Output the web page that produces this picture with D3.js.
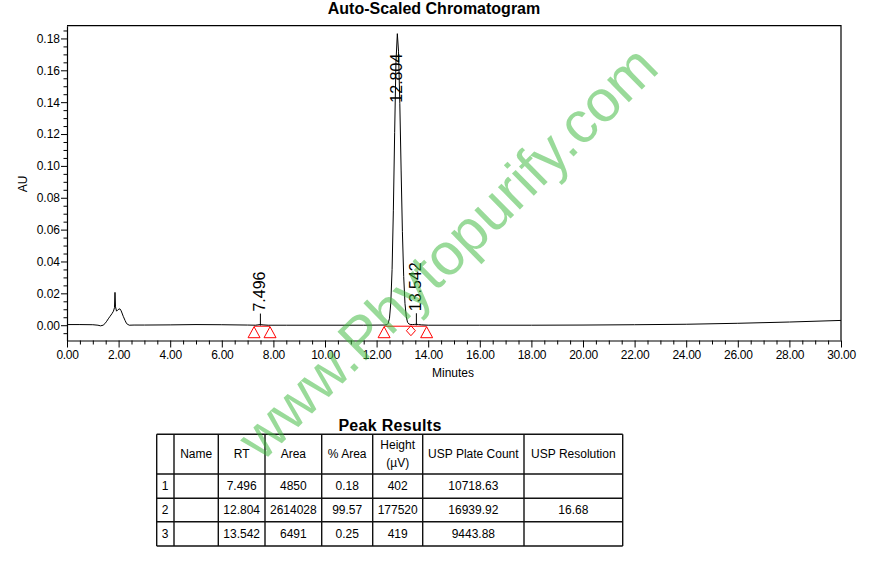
<!DOCTYPE html>
<html><head><meta charset="utf-8">
<script src="https://cdn.jsdelivr.net/npm/d3@7"></script>
<style>
body{margin:0;background:#fff}
text{font-family:Arial,"Liberation Sans",sans-serif;fill:#000}
</style>
</head><body>
<svg id="c" width="875" height="582"></svg>
<script>
// ---------- data ----------
const times = [0.00,0.50,1.00,1.20,1.30,1.40,1.47,1.54,1.60,1.67,1.74,1.80,1.84,1.86,1.88,1.92,1.98,2.05,2.10,2.18,2.25,2.31,2.41,2.60,3.00,4.00,5.00,6.00,7.00,7.30,7.40,7.496,7.60,7.80,8.50,10.00,11.50,12.30,12.40,12.45,12.50,12.55,12.60,12.65,12.70,12.75,12.804,12.85,12.90,12.95,13.00,13.05,13.10,13.15,13.20,13.25,13.30,13.40,13.48,13.542,13.62,13.75,14.00,16.00,18.00,20.00,22.00,24.00,26.00,28.00,30.00];
const absorbance = [0.0004,0.0004,0.0003,0.0000,-0.0004,0.0000,0.0010,0.0025,0.0040,0.0056,0.0072,0.0088,0.0110,0.0206,0.0115,0.0088,0.0098,0.0103,0.0090,0.0056,0.0030,0.0010,0.0000,0.0001,0.0001,0.0002,0.0004,0.0003,0.0001,0.0000,0.0002,0.0004,0.0002,0.0000,0.0000,0.0000,0.0000,0.0001,0.0003,0.0012,0.0044,0.0139,0.0350,0.0722,0.1211,0.1650,0.1830,0.1720,0.1390,0.0974,0.0587,0.0306,0.0137,0.0053,0.0018,0.0008,0.0005,0.0004,0.0005,0.0006,0.0004,0.0002,0.0000,0.0000,0.0000,0.0001,0.0003,0.0006,0.0012,0.0020,0.0030];

const peakRT = [7.496, 12.804, 13.542];
const peakApexAU = [0.0004, 0.1830, 0.0006];
const peakLabels = ["7.496", "12.804", "13.542"];
const peakStartMarks = [7.25, 12.29];
const peakEndMarks = [7.87, 13.94];
const valleyMarks = [13.33];
const integrationSegments = [[7.25, 7.87], [12.29, 13.94]];

const xTickValues = [0,2,4,6,8,10,12,14,16,18,20,22,24,26,28,30];
const yTickValues = [0.00,0.02,0.04,0.06,0.08,0.10,0.12,0.14,0.16,0.18];

const tableHeaders = ["", "Name", "RT", "Area", "% Area", "Height|(µV)", "USP Plate Count", "USP Resolution"];
const rowIds = ["1", "2", "3"];
const rowNames = ["", "", ""];
const rowRT = ["7.496", "12.804", "13.542"];
const rowArea = ["4850", "2614028", "6491"];
const rowPctArea = ["0.18", "99.57", "0.25"];
const rowHeight = ["402", "177520", "419"];
const rowPlate = ["10718.63", "16939.92", "9443.88"];
const rowResolution = ["", "16.68", ""];

// ---------- layout ----------
const svg = d3.select("#c");
const L = 67, R = 841, T = 25.7, B = 340.5;
const x = d3.scaleLinear().domain([0, 30]).range([L, R]);
const y = d3.scaleLinear().domain([-0.0096, 0.188]).range([B, T]);

svg.append("rect").attr("width", 875).attr("height", 582).attr("fill", "#fff");

// title
svg.append("text").attr("x", 434).attr("y", 14).attr("text-anchor", "middle")
  .style("font-size", "16px").style("font-weight", "bold").text("Auto-Scaled Chromatogram");

// frame top/right
svg.append("path").attr("d", `M${L},${T}H${R}V${B}`).attr("fill", "none").attr("stroke", "#000").attr("stroke-width", 1.2);

// y axis
const yAxis = d3.axisLeft(y).tickValues(yTickValues).tickFormat(d3.format(".2f")).tickSize(6).tickSizeOuter(0);
const gy = svg.append("g").attr("transform", `translate(${L},0)`).call(yAxis);
gy.select(".domain").attr("stroke-width", 1.2);
gy.selectAll("text").style("font-size", "12px").style("font-family", "Arial, 'Liberation Sans', sans-serif").attr("x", -7);
const yMinor = d3.range(-0.005, 0.1851, 0.005).filter(v => Math.abs(Math.round(v / 0.02) * 0.02 - v) > 1e-6);
svg.append("g").attr("transform", `translate(${L},0)`).call(d3.axisLeft(y).tickValues(yMinor).tickFormat("").tickSize(3.5).tickSizeOuter(0))
  .select(".domain").remove();

// x axis
const xAxis = d3.axisBottom(x).tickValues(xTickValues).tickFormat(d3.format(".2f")).tickSize(7).tickSizeOuter(0);
const gx = svg.append("g").attr("transform", `translate(0,${B})`).call(xAxis);
gx.select(".domain").attr("stroke-width", 1.2);
gx.selectAll("text").style("font-size", "12px").style("font-family", "Arial, 'Liberation Sans', sans-serif").attr("y", 10).style("letter-spacing", "-0.3px");
const xMinor = d3.range(0.5, 30, 0.5).filter(v => v % 2 !== 0);
svg.append("g").attr("transform", `translate(0,${B})`).call(d3.axisBottom(x).tickValues(xMinor).tickFormat("").tickSize(4).tickSizeOuter(0))
  .select(".domain").remove();

svg.append("text").attr("x", 453).attr("y", 377).attr("text-anchor", "middle").style("font-size", "12px").text("Minutes");
svg.append("text").attr("transform", "translate(23,184) rotate(-90)").attr("text-anchor", "middle").attr("dy", "0.35em")
  .style("font-size", "12px").text("AU");

// clip
svg.append("clipPath").attr("id", "clip").append("rect").attr("x", L).attr("y", T).attr("width", R - L).attr("height", B - T);

// integration baselines
svg.append("g").selectAll("line").data(integrationSegments).join("line")
  .attr("x1", d => x(d[0])).attr("x2", d => x(d[1]))
  .attr("y1", y(0) + 1).attr("y2", y(0) + 1).attr("stroke", "#ff0000").attr("stroke-width", 1);

// trace
const pts = times.map((t, i) => [t, absorbance[i]]);
svg.append("path").datum(pts).attr("clip-path", "url(#clip)")
  .attr("d", d3.line().x(d => x(d[0])).y(d => y(d[1])))
  .attr("fill", "none").attr("stroke", "#000").attr("stroke-width", 1);

// markers
const triPath = (t) => { const cx = x(t), top = y(0) + 1.5; return `M${cx},${top}L${cx + 6},${top + 11}L${cx - 6},${top + 11}Z`; };
svg.append("g").selectAll("path").data(peakStartMarks.concat(peakEndMarks)).join("path")
  .attr("d", triPath).attr("fill", "none").attr("stroke", "#ff0000").attr("stroke-width", 1);
svg.append("g").selectAll("path").data(valleyMarks).join("path")
  .attr("d", t => { const cx = x(t), cy = y(0) + 5.5; return `M${cx},${cy - 5}L${cx + 4.5},${cy}L${cx},${cy + 5}L${cx - 4.5},${cy}Z`; })
  .attr("fill", "none").attr("stroke", "#ff0000").attr("stroke-width", 1);

// peak labels
peakRT.forEach((rt, i) => {
  const px = x(rt);
  const t = svg.append("text").attr("dy", "0.35em").style("font-size", "16px").text(peakLabels[i]);
  const len = t.node().getComputedTextLength();
  const apexY = y(peakApexAU[i]);
  let bottom = apexY - 13;
  const small = bottom - len >= T + 28;
  if (!small) bottom = T + 28 + len;
  else svg.append("line").attr("x1", px).attr("x2", px).attr("y1", apexY + 1).attr("y2", apexY - 11).attr("stroke", "#000");
  t.attr("transform", `translate(${px - 1},${bottom}) rotate(-90)`);
});

// ---------- table ----------
const colEdges = [156.7, 174, 218.3, 265, 321.7, 372.7, 422.7, 524, 622.7];
const rowEdges = [434.3, 474, 498.3, 521.7, 546];
svg.append("text").attr("x", 390).attr("y", 431).attr("text-anchor", "middle")
  .style("font-size", "16px").style("font-weight", "bold").style("letter-spacing", "0.3px").text("Peak Results");
const tg = svg.append("g");
colEdges.forEach(cx => tg.append("line").attr("x1", cx).attr("x2", cx).attr("y1", rowEdges[0]).attr("y2", rowEdges[4]).attr("stroke", "#111").attr("stroke-width", 1.4));
rowEdges.forEach(ry => tg.append("line").attr("x1", colEdges[0]).attr("x2", colEdges[8]).attr("y1", ry).attr("y2", ry).attr("stroke", "#111").attr("stroke-width", 1.4));
const colMid = i => (colEdges[i] + colEdges[i + 1]) / 2;
tableHeaders.forEach((h, i) => {
  const parts = h.split("|");
  if (parts.length === 1) {
    tg.append("text").attr("x", colMid(i)).attr("y", 453.5).attr("dy", "0.35em").attr("text-anchor", "middle").style("font-size", "12px").text(h);
  } else {
    tg.append("text").attr("x", colMid(i)).attr("y", 445).attr("dy", "0.35em").attr("text-anchor", "middle").style("font-size", "12px").text(parts[0]);
    tg.append("text").attr("x", colMid(i)).attr("y", 463).attr("dy", "0.35em").attr("text-anchor", "middle").style("font-size", "12px").text(parts[1]);
  }
});
const cols = [rowIds, rowNames, rowRT, rowArea, rowPctArea, rowHeight, rowPlate, rowResolution];
rowIds.forEach((_, r) => {
  const cy = (rowEdges[r + 1] + rowEdges[r + 2]) / 2;
  cols.forEach((col, c) => {
    const txt = tg.append("text").attr("y", cy).attr("dy", "0.35em").style("font-size", "12px").text(col[r]);
    if (c === 0) txt.attr("x", colEdges[0] + 5);
    else txt.attr("x", colMid(c)).attr("text-anchor", "middle");
  });
});

// watermark
svg.append("text").attr("transform", "translate(447,252) rotate(-44.5)").attr("text-anchor", "middle").attr("dy", "0.35em")
  .style("font-size", "59px").style("fill", "#3cb83c").style("fill-opacity", 0.52).text("www.Phytopurify.com");
</script>
</body></html>
